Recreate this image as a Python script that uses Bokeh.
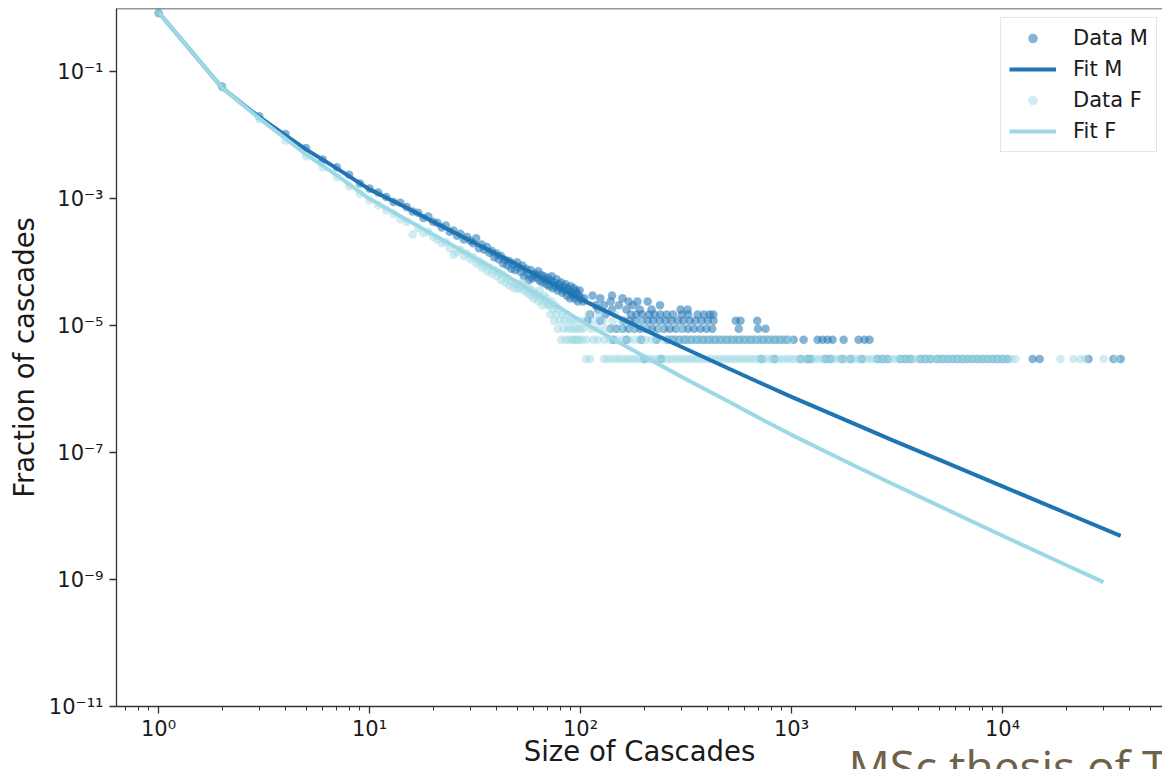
from bokeh.plotting import figure
from bokeh.models import (ColumnDataSource, FixedTicker, Range1d, Legend,
                          LegendItem, Span, Title)
from bokeh.embed import file_html
from bokeh.resources import INLINE

# ---------------- data ----------------
TOTAL = 333000  # number of cascades (one cascade -> 3.0e-6)

# Data M: small sizes (fractions)
m_head_size = list(range(1, 61))
m_head_frac = [0.851, 0.0589, 0.0200, 0.0105, 6.31e-3, 4.17e-3, 3.16e-3, 2.40e-3, 1.74e-3, 1.45e-3,
               1.26e-3, 1.07e-3, 8.91e-4, 8.71e-4, 7.41e-4, 6.31e-4, 6.03e-4, 5.01e-4, 5.25e-4, 4.37e-4,
               4.17e-4, 3.55e-4, 3.80e-4, 3.02e-4, 3.16e-4, 2.63e-4, 2.82e-4, 2.29e-4, 2.51e-4, 2.19e-4,
               2.00e-4, 2.40e-4, 1.66e-4, 1.91e-4, 1.58e-4, 1.74e-4, 1.41e-4, 1.51e-4, 1.20e-4, 1.38e-4,
               1.12e-4, 1.26e-4, 9.55e-5, 1.10e-4, 8.91e-5, 1.05e-4, 7.94e-5, 9.33e-5, 7.59e-5, 1.00e-4,
               8.32e-5, 7.08e-5, 8.91e-5, 6.03e-5, 7.94e-5, 6.61e-5, 5.25e-5, 7.59e-5, 5.62e-5, 6.31e-5]
# Data M: sizes 61..100 (counts)
m_mid_size = list(range(61, 101))
m_mid_count = [22, 19, 24, 17, 21, 16, 20, 18, 15, 19,
               14, 17, 20, 13, 16, 14, 18, 12, 15, 13,
               16, 11, 14, 12, 15, 10, 13, 12, 9, 14,
               11, 10, 13, 9, 12, 11, 8, 10, 12, 9]
# Data M: large sizes, grouped by count
m_c1 = [201, 241, 720, 830, 1104, 1192, 1232, 1449, 1530, 1740, 1904, 2150, 2558, 2700, 2851,
        3286, 3470, 3664, 4087, 4316, 4557, 4920, 5198, 5489, 5797, 6121, 6465, 6827, 7210,
        7614, 8040, 8492, 8968, 9471, 10000, 10560, 13900, 15000, 25570, 33570, 36300]
m_c2 = [143, 165, 194, 229, 259, 271, 282, 295, 308, 321, 336, 351, 366, 383, 400, 417, 436,
        456, 476, 497, 519, 543, 567, 592, 619, 646, 675, 707, 737, 770, 805, 840, 878, 918,
        958, 1023, 1141, 1329, 1403, 1482, 1565, 1765, 2078, 2218, 2343]
m_c3 = [139, 148, 158, 169, 180, 192, 205, 218, 233, 249, 265, 283, 303, 323, 345, 370, 395,
        421, 562, 694, 753]
m_c4 = [108, 124, 160, 171, 182, 195, 208, 221, 237, 253, 270, 289, 307, 329, 350, 375, 401,
        427, 544, 573, 688]
m_c5 = [111, 131, 173, 184, 196, 211, 224, 239, 256, 274, 302, 324, 359, 384, 409, 426]
m_c6 = [121, 141, 165, 191, 217, 298, 322]
m_c7 = [118, 129, 152, 177, 238]
m_c8 = [103, 139, 169, 186, 208]
m_c9 = [104, 124, 158]
m_c10 = [114, 141]

# Data F: small sizes (fractions)
f_head_size = list(range(1, 51))
f_head_frac = [0.832, 0.0575, 0.0182, 8.32e-3, 4.68e-3, 3.16e-3, 2.19e-3, 1.58e-3, 1.20e-3, 9.55e-4,
               7.94e-4, 6.61e-4, 5.75e-4, 4.79e-4, 4.37e-4, 2.75e-4, 3.47e-4, 2.88e-4, 3.02e-4, 2.51e-4,
               2.29e-4, 2.00e-4, 2.09e-4, 1.66e-4, 1.32e-4, 1.45e-4, 1.58e-4, 1.26e-4, 1.38e-4, 1.12e-4,
               1.20e-4, 9.55e-5, 1.05e-4, 8.32e-5, 9.12e-5, 7.24e-5, 8.32e-5, 6.61e-5, 7.59e-5, 6.03e-5,
               6.92e-5, 5.25e-5, 6.31e-5, 4.79e-5, 5.62e-5, 4.37e-5, 5.01e-5, 3.98e-5, 4.68e-5, 3.80e-5]
# Data F: sizes 51..100 (counts)
f_mid_size = list(range(51, 101))
f_mid_count = [15, 13, 16, 12, 14, 11, 13, 10, 12, 9, 11, 10, 8, 12, 9, 7, 10, 8, 9, 7,
               7, 5, 8, 6, 4, 7, 5, 3, 6, 4, 2, 5, 3, 4, 2, 5, 3, 2, 4, 3,
               2, 4, 2, 3, 2, 3, 2, 4, 2, 3]
# Data F: large sizes, grouped by count
f_c1 = [106, 111, 129, 134, 140, 147, 153, 160, 168, 175, 182, 190, 199, 208, 217, 227, 237,
        247, 259, 270, 282, 295, 308, 322, 336, 351, 366, 383, 400, 417, 436, 456, 476, 497,
        519, 543, 567, 592, 619, 646, 675, 706, 737, 770, 805, 840, 878, 918, 958, 1001, 1045,
        1092, 1141, 1192, 1245, 1300, 1358, 1419, 1482, 1548, 1617, 1690, 1765, 1844, 1926,
        2011, 2101, 2195, 2293, 2395, 2502, 2613, 2730, 2851, 2979, 3111, 3250, 3395, 3547,
        3705, 3870, 4043, 4223, 4412, 4608, 4814, 5029, 5253, 5489, 5733, 5989, 6256, 6535,
        6827, 7132, 7450, 7782, 8129, 8492, 8871, 9266, 9680, 10110, 10560, 11030, 11520,
        18830, 21690, 23400, 24700, 30120, 34500]
f_c2 = [102, 107, 115, 121, 130, 138, 148, 158, 169, 180, 191, 204, 218, 231, 248, 265, 283,
        302, 323, 345, 367, 392, 418, 447, 477, 509, 544, 581, 620, 662, 707, 754, 806, 860,
        919, 981]
f_c3 = [103, 112, 121, 131, 141, 155, 177, 203, 239, 298]
f_c4 = [105, 117, 128, 142, 157, 192]
f_c5 = [109, 123, 146]

# Fits
fit_m_size = [1, 2, 3, 4, 5, 7, 10, 15, 20, 30, 40, 50, 70, 100, 150, 200, 300, 500, 700,
              1000, 2000, 3000, 5000, 10000, 20000, 36300]
fit_m_frac = [0.871, 0.0562, 0.0195, 0.0100, 6.03e-3, 3.02e-3, 1.41e-3, 7.24e-4, 4.37e-4,
              2.19e-4, 1.35e-4, 9.12e-5, 5.01e-5, 2.63e-5, 1.38e-5, 8.71e-6, 4.68e-6, 2.14e-6,
              1.29e-6, 7.59e-7, 2.82e-7, 1.58e-7, 7.76e-8, 2.95e-8, 1.12e-8, 4.90e-9]
fit_f_size = [1, 2, 3, 4, 5, 7, 10, 15, 20, 30, 40, 50, 70, 100, 150, 200, 300, 500, 700,
              1000, 2000, 3000, 5000, 10000, 20000, 30100]
fit_f_frac = [0.871, 0.0562, 0.0186, 8.91e-3, 5.01e-3, 2.34e-3, 1.00e-3, 4.68e-4, 2.75e-4,
              1.29e-4, 7.59e-5, 4.90e-5, 2.51e-5, 1.20e-5, 5.62e-6, 3.31e-6, 1.58e-6, 6.46e-7,
              3.55e-7, 1.91e-7, 6.17e-8, 3.24e-8, 1.45e-8, 4.90e-9, 1.70e-9, 9.12e-10]

x_major = [1, 10, 100, 1000, 10000]
x_labels = ["10\u2070", "10\u00b9", "10\u00b2", "10\u00b3", "10\u2074"]
x_minor = [0.7, 0.8, 0.9, 2, 3, 4, 5, 6, 7, 8, 9, 20, 30, 40, 50, 60, 70, 80, 90,
           200, 300, 400, 500, 600, 700, 800, 900, 2000, 3000, 4000, 5000, 6000, 7000,
           8000, 9000, 20000, 30000, 40000, 50000]
y_major = [1e-11, 1e-9, 1e-7, 1e-5, 1e-3, 1e-1]
y_labels = ["10\u207b\u00b9\u00b9", "10\u207b\u2079", "10\u207b\u2077", "10\u207b\u2075",
            "10\u207b\u00b3", "10\u207b\u00b9"]

C_M = "#1f74b4"
C_F = "#9dd9e4"
AX = "#333333"
TXT = "#1a1a1a"


def build(head_size, head_frac, mid_size, mid_count, rows):
    xs = list(head_size) + list(mid_size)
    ys = list(head_frac) + [c / TOTAL for c in mid_count]
    for count, sizes in rows:
        xs += sizes
        ys += [count / TOTAL] * len(sizes)
    return xs, ys


mx, my = build(m_head_size, m_head_frac, m_mid_size, m_mid_count,
               [(1, m_c1), (2, m_c2), (3, m_c3), (4, m_c4), (5, m_c5), (6, m_c6),
                (7, m_c7), (8, m_c8), (9, m_c9), (10, m_c10)])
fx, fy = build(f_head_size, f_head_frac, f_mid_size, f_mid_count,
               [(1, f_c1), (2, f_c2), (3, f_c3), (4, f_c4), (5, f_c5)])

# ---------------- figure ----------------
p = figure(width=1162, height=769, x_axis_type="log", y_axis_type="log",
           x_range=Range1d(0.632, 57300), y_range=Range1d(1e-11, 1.0),
           output_backend="svg", toolbar_location=None,
           min_border_left=116, min_border_right=0, min_border_top=8, min_border_bottom=63)
p.outline_line_color = None
p.xgrid.grid_line_color = None
p.ygrid.grid_line_color = None
p.background_fill_color = "white"
p.border_fill_color = "white"

src_m = ColumnDataSource(dict(x=mx, y=my))
src_f = ColumnDataSource(dict(x=fx, y=fy))
r_dm = p.scatter("x", "y", source=src_m, size=8.5, fill_color=C_M, fill_alpha=0.55, line_color=None)
r_df = p.scatter("x", "y", source=src_f, size=8.5, fill_color=C_F, fill_alpha=0.5, line_color=None)
r_fm = p.line(fit_m_size, fit_m_frac, line_color=C_M, line_width=4)
r_ff = p.line(fit_f_size, fit_f_frac, line_color=C_F, line_width=4)

xa = p.xaxis[0]
ya = p.yaxis[0]
xa.ticker = FixedTicker(ticks=x_major, minor_ticks=x_minor)
ya.ticker = FixedTicker(ticks=y_major)
xa.major_label_overrides = dict(zip(x_major, x_labels))
ya.major_label_overrides = dict(zip(y_major, y_labels))
for ax in (xa, ya):
    ax.axis_line_color = AX
    ax.axis_line_width = 1.3
    ax.major_tick_line_color = AX
    ax.major_tick_line_width = 1.3
    ax.major_tick_out = 7
    ax.major_tick_in = 0
    ax.minor_tick_line_color = AX
    ax.minor_tick_line_width = 1
    ax.minor_tick_out = 4
    ax.minor_tick_in = 0
    ax.major_label_text_font = "DejaVu Sans"
    ax.major_label_text_font_size = "21px"
    ax.major_label_text_color = TXT
    ax.axis_label_text_font = "DejaVu Sans"
    ax.axis_label_text_font_size = "27.5px"
    ax.axis_label_text_font_style = "normal"
    ax.axis_label_text_color = TXT
xa.axis_label = "Size of Cascades"
ya.axis_label = "Fraction of cascades"
xa.major_label_standoff = 3
ya.major_label_standoff = 6
xa.axis_label_standoff = -9
ya.axis_label_standoff = 6

p.add_layout(Span(location=1.0, dimension="width", line_color=AX, line_width=1.3))

legend = Legend(items=[LegendItem(label="Data M", renderers=[r_dm]),
                       LegendItem(label="Fit M", renderers=[r_fm]),
                       LegendItem(label="Data F", renderers=[r_df]),
                       LegendItem(label="Fit F", renderers=[r_ff])],
                location=(884, 554))
legend.label_text_font = "DejaVu Sans"
legend.label_text_font_size = "21px"
legend.label_text_color = TXT
legend.glyph_width = 47
legend.glyph_height = 24
legend.label_height = 24
legend.label_standoff = 17
legend.padding = 8
legend.spacing = 7
legend.margin = 0
legend.border_line_color = "#cccccc"
legend.border_line_width = 1.2
legend.background_fill_alpha = 0.85
p.add_layout(legend)

# slide caption overlapping the bottom edge (placed in the bottom side panel)
caption = Title(text="MSc thesis of T", align="left", vertical_align="top", offset=732,
                standoff=-70, text_font="Open Sans", text_font_size="46px",
                text_font_style="normal", text_color="#6f6248")
p.add_layout(caption, "below")

open("out.html", "w").write(file_html(p, INLINE))
